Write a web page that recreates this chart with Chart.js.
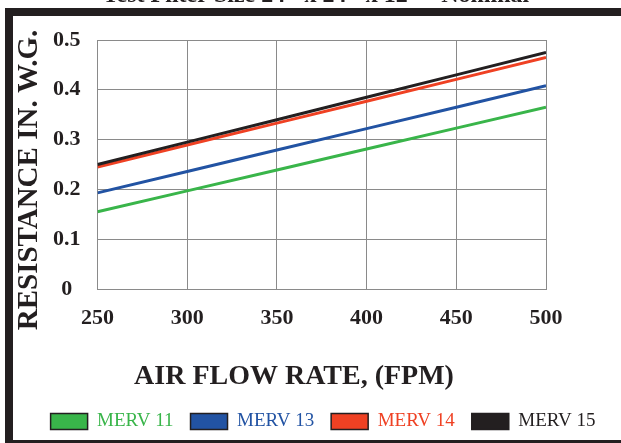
<!DOCTYPE html>
<html>
<head>
<meta charset="utf-8">
<script src="https://cdn.jsdelivr.net/npm/chart.js@4.4.0/dist/chart.umd.min.js"></script>
<style>
body{margin:0;background:#fff;overflow:hidden;width:621px;height:443px;position:relative}
#frame{position:absolute;left:5px;top:8px;width:700px;height:424px;border-top:8px solid #231f20;border-left:8px solid #231f20;border-bottom:3px solid #231f20}
canvas{position:absolute;left:0;top:0}
</style>
</head>
<body>
<div id="frame"></div>
<canvas id="filterChart" width="621" height="443"></canvas>
<script>
// air flow rate (FPM)
const flowRates=[250,300,350,400,450,500]
// resistance in. w.g.
const merv11=[0.155,0.197,0.239,0.281,0.323,0.365]
const merv13=[0.193,0.236,0.279,0.322,0.365,0.408]
const merv14=[0.245,0.289,0.333,0.377,0.421,0.465]
const merv15=[0.250,0.295,0.340,0.385,0.430,0.475]
const seriesNames=['MERV 11','MERV 13','MERV 14','MERV 15']
const seriesColors=['#39b54a','#2253a3','#ef4123','#231f20']
const yTicks=[0,0.1,0.2,0.3,0.4,0.5]

const titleText='Test Filter Size 24" x 24" x 12" - Nominal'
const xTitle='AIR FLOW RATE, (FPM)'
const yTitle='RESISTANCE IN. W.G.'

const serif='"Liberation Serif", "Times New Roman", serif'

function toPoints(vals){
 return flowRates.map((x,i)=>({x:x,y:vals[i]}))
}

const allSeries=[merv11,merv13,merv14,merv15]
const datasets=allSeries.map((vals,i)=>({
 label:seriesNames[i],
 data:toPoints(vals),
 borderColor:seriesColors[i],
 backgroundColor:seriesColors[i],
 borderWidth:3,
 pointRadius:0,
 tension:0,
 fill:false,
 order:3-i
}))

// titles sit off-centre in the original, so they are drawn by hand
const chartText={
 id:'chartText',
 afterDraw(chart){
  const ctx=chart.ctx
  ctx.save()
  ctx.fillStyle='#231f20'
  ctx.textAlign='center'
  ctx.textBaseline='alphabetic'
  ctx.font='bold 24px '+serif
  ctx.fillText(titleText,316,2)
  ctx.textBaseline='middle'
  ctx.font='bold 28px '+serif
  ctx.fillText(xTitle,294,377)
  ctx.font='bold 29px '+serif
  ctx.translate(30,180)
  ctx.rotate(-Math.PI/2)
  ctx.fillText(yTitle,0,0)
  ctx.restore()
 }
}

const ctx=document.getElementById('filterChart')
new Chart(ctx,{
 type:'line',
 data:{datasets:datasets},
 options:{
  responsive:false,
  animation:false,
  devicePixelRatio:1,
  layout:{padding:{left:25,right:0,top:40,bottom:2}},
  plugins:{
   tooltip:{enabled:false},
   title:{display:false},
   legend:{
    position:'bottom',
    labels:{
     boxWidth:37,
     boxHeight:16,
     padding:17,
     font:{family:serif,size:19},
     generateLabels(chart){
      return chart.data.datasets.map((ds,i)=>({
       text:ds.label,
       fillStyle:ds.borderColor,
       strokeStyle:'#231f20',
       lineWidth:1.5,
       fontColor:ds.borderColor,
       datasetIndex:i,
       hidden:false
      }))
     }
    }
   }
  },
  scales:{
   x:{
    type:'linear',
    min:flowRates[0],
    max:flowRates[flowRates.length-1],
    grid:{color:'#8a8a8a',lineWidth:1,drawTicks:false},
    border:{color:'#8a8a8a'},
    ticks:{
     stepSize:50,
     padding:16,
     color:'#231f20',
     font:{family:serif,size:22,weight:'bold'}
    },
    afterFit(s){s.height=106}
   },
   y:{
    min:yTicks[0],
    max:yTicks[yTicks.length-1],
    grid:{color:'#8a8a8a',lineWidth:1,drawTicks:false},
    border:{color:'#8a8a8a'},
    ticks:{
     stepSize:0.1,
     padding:17,
     crossAlign:'center',
     color:'#231f20',
     font:{family:serif,size:22,weight:'bold'},
     callback:v=>v===0?'0':v.toFixed(1)
    },
    afterFit(s){s.width=72.5}
   },
   // empty axis that keeps the blank strip right of the plot
   yRight:{
    position:'right',
    display:true,
    grid:{display:false},
    border:{display:false},
    ticks:{display:false},
    afterFit(s){s.width=75}
   }
  }
 },
 plugins:[chartText]
})
</script>
</body>
</html>
